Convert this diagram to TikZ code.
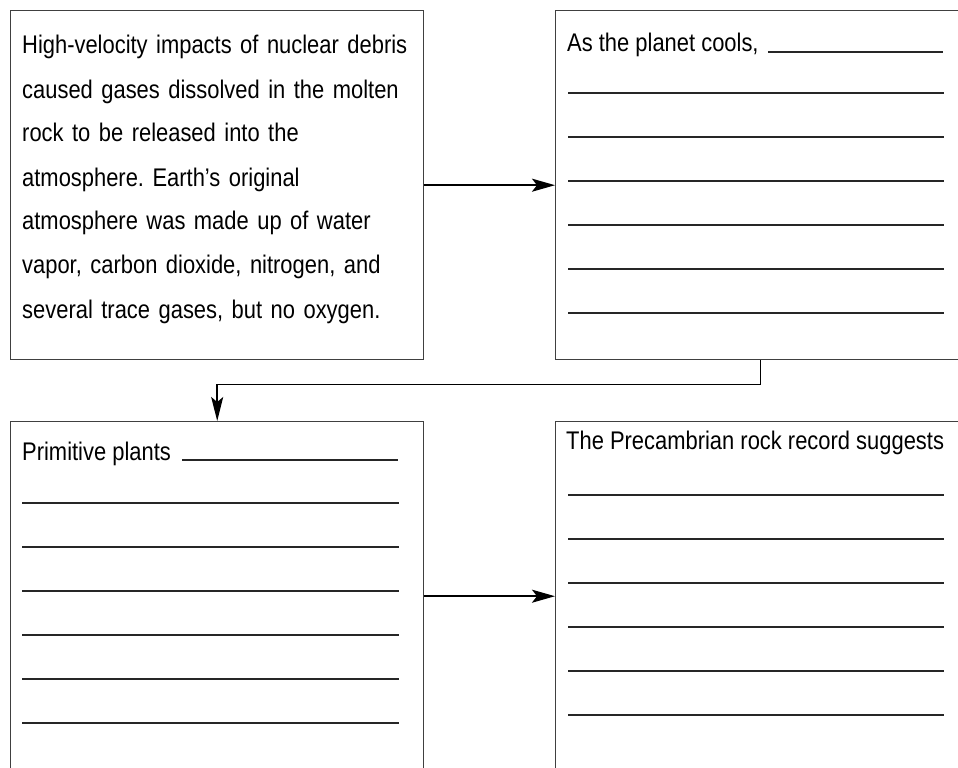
\documentclass[tikz,border=0pt]{standalone}
\usepackage{fontspec}
\setmainfont{Liberation Sans}[FakeStretch=0.86]
\usetikzlibrary{positioning,arrows.meta,calc}
\newcommand{\bodyfont}{\fontsize{25.5}{44}\selectfont\frenchspacing}

\begin{document}
\begin{tikzpicture}[x=1pt, y=-1pt,
  card/.style={draw=black!75, line width=1.4pt, minimum width=413pt,
               minimum height=349pt, inner sep=0pt, anchor=north west},
  prompt/.style={font=\bodyfont, inner sep=0pt, anchor=base west, align=left},
  rule/.style={line width=1.3pt, black!85},
  arr/.style={-{Stealth[length=23pt, width=13pt, inset=5pt]}, line width=2pt},
  link/.style={-{Stealth[length=24pt, width=12pt, inset=5pt]}, line width=1.5pt}
]
  \useasboundingbox (0,0) rectangle (958,768);
  \clip (0,0) rectangle (958,768);

  % the four cards, the right and bottom ones run off the page
  \node[card] (quake) at (10,10) {};
  \node[card, minimum width=410pt] (cools) at (555,10) {};
  \node[card] (plants) at (10,421) {};
  \node[card, minimum width=410pt] (record) at (555,421) {};

  % card 1: given text
  \node[prompt, text width=400pt] (impact) at ($(quake.north west)+(12,44)$)
    {High-velocity impacts of nuclear debris\\
     caused gases dissolved in the molten\\
     rock to be released into the\\
     atmosphere. Earth’s original\\
     atmosphere was made up of water\\
     vapor, carbon dioxide, nitrogen, and\\
     several trace gases, but no oxygen.};

  % card 2: prompt and writing lines
  \node[prompt] (asplanet) at ($(cools.north west)+(12,42)$) {As the planet cools,};
  \draw[rule] ([xshift=9pt]asplanet.base east) -- ($(cools.north west)+(388,42)$);
  \foreach \k in {1,...,6}
    \draw[rule] ($(cools.north west)+(13,39+44*\k)$) -- ++(376,0);

  % card 3
  \node[prompt] (primitive) at ($(plants.north west)+(12,39)$) {Primitive plants};
  \draw[rule] ([xshift=11pt]primitive.base east) -- ($(plants.north west)+(388,39)$);
  \foreach \k in {1,...,6}
    \draw[rule] ($(plants.north west)+(12,38+44*\k)$) -- ++(377,0);

  % card 4
  \node[prompt] (precamb) at ($(record.north west)+(11,28)$) {The Precambrian rock record suggests};
  \foreach \k in {1,...,6}
    \draw[rule] ($(record.north west)+(13,30+44*\k)$) -- ++(376,0);

  % connectors
  \draw[arr] (quake) -- (cools);
  \draw[arr] (plants) -- (record);
  \draw[link] (cools.south) -- ++(0,24) -| (plants.north);
\end{tikzpicture}
\end{document}
